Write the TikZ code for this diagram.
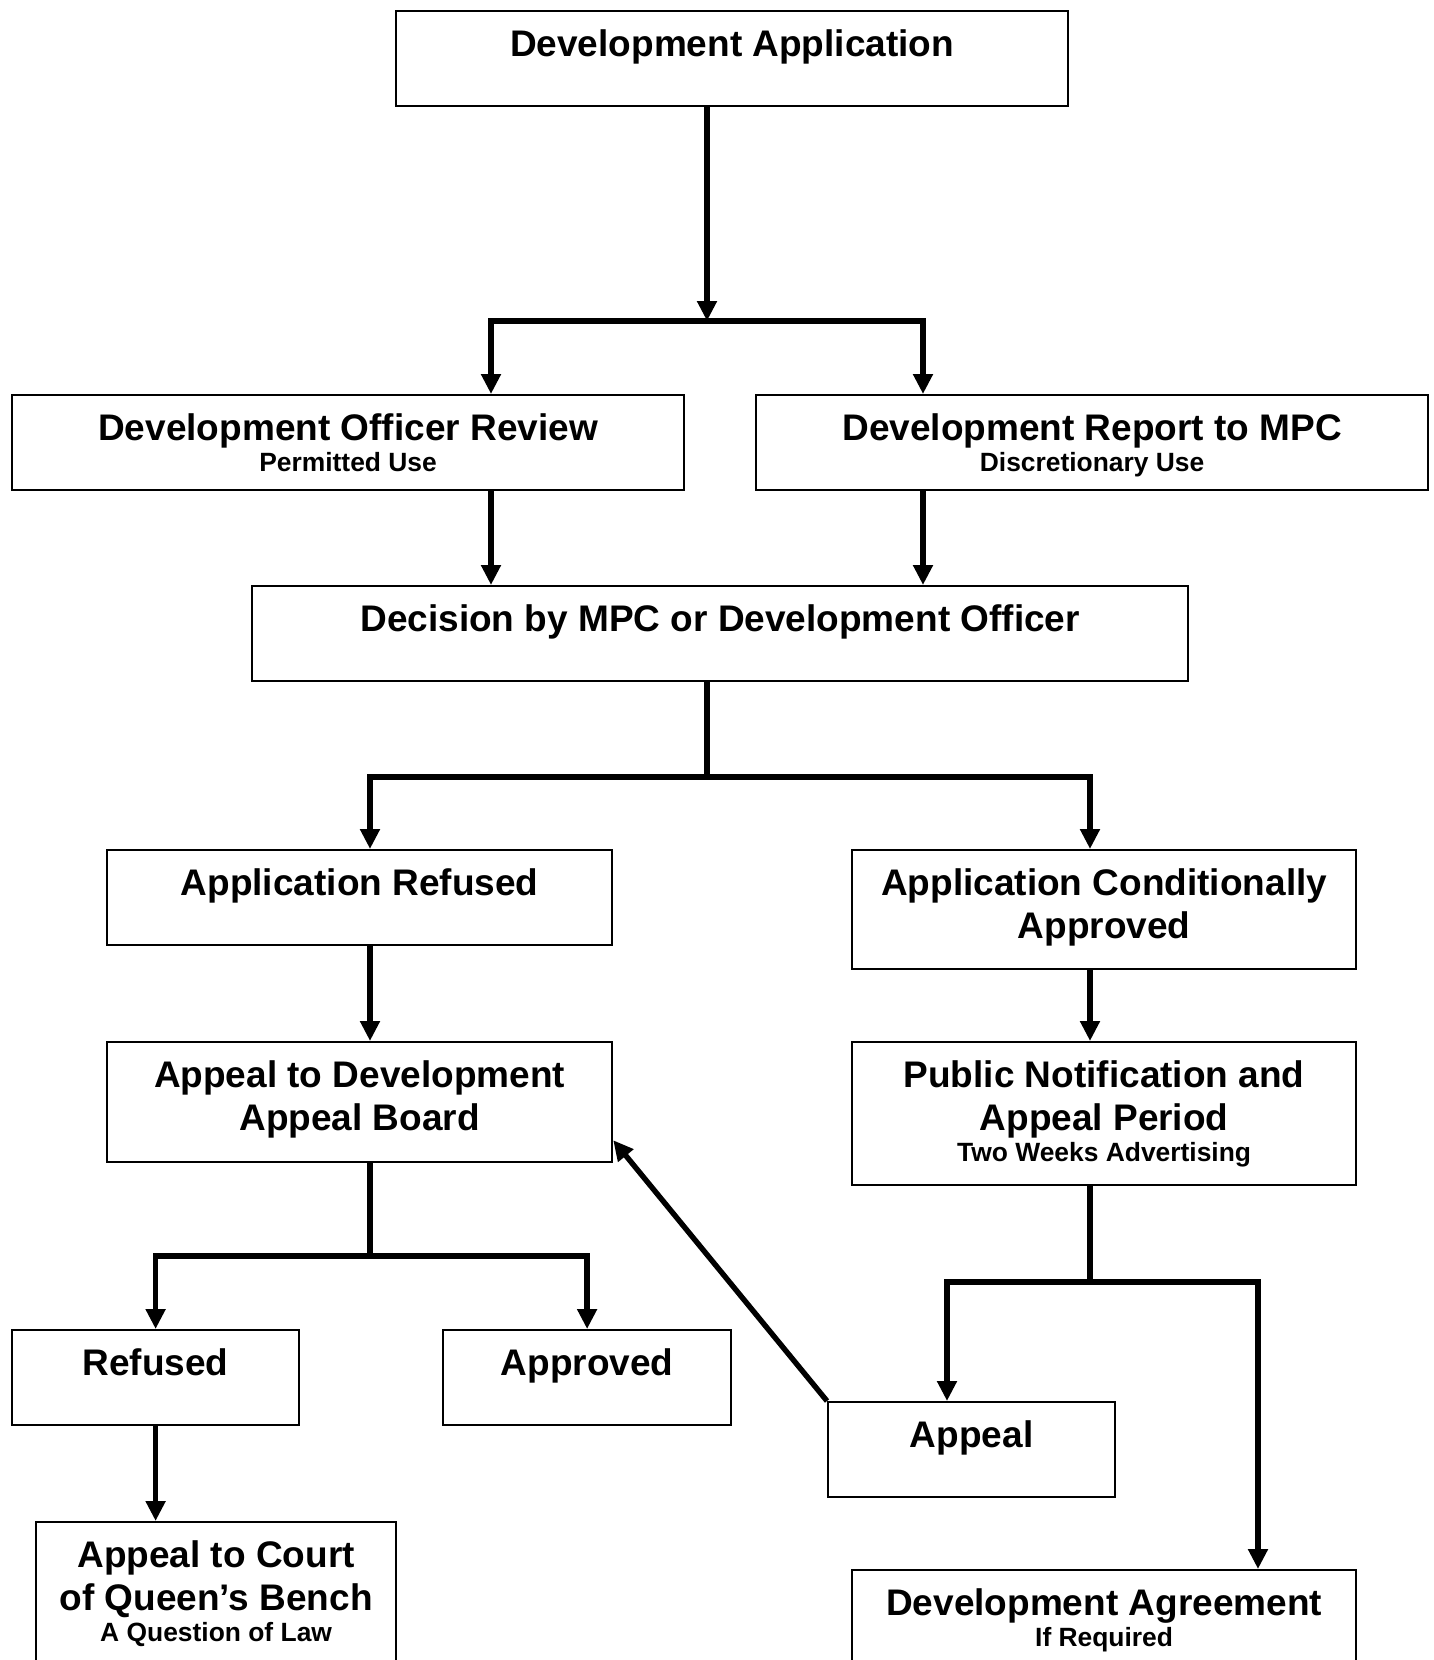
\documentclass[tikz,border=0pt]{standalone}
\usepackage{fontspec}
\setmainfont{Liberation Sans}
\usetikzlibrary{arrows.meta,calc}
\newcommand{\bxt}[3]{\parbox[c][#2][t]{#1}{\centering\rule{0pt}{22.5pt}#3}}
\newcommand{\subl}[1]{\par\fontsize{13.2}{15.5}\selectfont #1}
\tikzset{
  box/.style={draw, line width=1.1pt, inner sep=0pt, anchor=north west,
    font=\fontsize{18.5}{21.5}\selectfont\bfseries},
  ln/.style={line width=2.7pt},
  arr/.style={line width=2.7pt, -{Triangle[length=10pt,width=9.5pt]}}
}
\begin{document}
\begin{tikzpicture}[x=0.5pt,y=-0.5pt]
\clip (0,0) rectangle (1434,1660);
\fill[white] (0,0) rectangle (1434,1660);
% boxes
\node[box] (da) at (395,10) {\bxt{336pt}{47.5pt}{Development Application}};
\node[box] (dor) at (11,394) {\bxt{336pt}{47.5pt}{Development Officer Review\subl{Permitted Use}}};
\node[box] (drm) at (755,394) {\bxt{336pt}{47.5pt}{Development Report to MPC\subl{Discretionary Use}}};
\node[box] (dec) at (251,585) {\bxt{468pt}{47.5pt}{Decision by MPC or Development Officer}};
\node[box] (ref) at (106,849) {\bxt{252.5pt}{47.5pt}{Application Refused}};
\node[box] (aca) at (851,849) {\bxt{252pt}{59.5pt}{Application Conditionally\par Approved}};
\node[box] (adab) at (106,1041) {\bxt{252.5pt}{60pt}{Appeal to Development\par Appeal Board}};
\node[box] (pn) at (851,1041) {\bxt{252pt}{71.5pt}{Public Notification and\par Appeal Period\subl{Two Weeks Advertising}}};
\node[box] (refd) at (11,1329) {\bxt{143.5pt}{47.5pt}{Refused}};
\node[box] (appr) at (442,1329) {\bxt{144pt}{47.5pt}{Approved}};
\node[box] (court) at (35,1521) {\bxt{180pt}{90pt}{Appeal to Court\par of Queen’s Bench\subl{A Question of Law}}};
\node[box] (appeal) at (827,1401) {\bxt{143.5pt}{47.5pt}{Appeal}};
\node[box] (devag) at (851,1569) {\bxt{252pt}{60pt}{Development Agreement\subl{If Required}}};
% junction coordinates
\coordinate (c1) at (707,321);
\coordinate (xL1) at (491,0);
\coordinate (xR1) at (923,0);
\coordinate (c2) at (707,777);
\coordinate (xL2) at (370,0);
\coordinate (xR2) at (1090,0);
\coordinate (c3) at (370,1256);
\coordinate (c4) at (1090,1282);
\coordinate (xL4) at (947,0);
\coordinate (xR4) at (1258,0);
% connectors
\draw[arr] (da.south -| c1) -- (c1);
\draw[arr] (c1) -| (dor.north -| xL1);
\draw[arr] (c1) -| (drm.north -| xR1);
\draw[arr] (dor.south -| xL1) -- (dec.north -| xL1);
\draw[arr] (drm.south -| xR1) -- (dec.north -| xR1);
\draw[ln] (dec.south -| c2) -- (c2);
\draw[arr] (c2) -| (ref.north -| xL2);
\draw[arr] (c2) -| (aca.north -| xR2);
\draw[arr] (ref.south -| xL2) -- (adab.north -| xL2);
\draw[arr] (aca.south -| xR2) -- (pn.north -| xR2);
\draw[ln] (adab.south -| c3) -- (c3);
\draw[arr] (c3) -| (refd.north);
\draw[arr] (c3) -| (appr.north);
\draw[arr] (refd.south) -- (court.north -| refd.south);
\draw[ln] (pn.south -| c4) -- (c4);
\draw[arr] (c4) -| (appeal.north -| xL4);
\draw[arr] (c4) -| (devag.north -| xR4);
\draw[arr] (appeal.north west) -- ($(adab.south east)+(0,-23)$);
\end{tikzpicture}
\end{document}
